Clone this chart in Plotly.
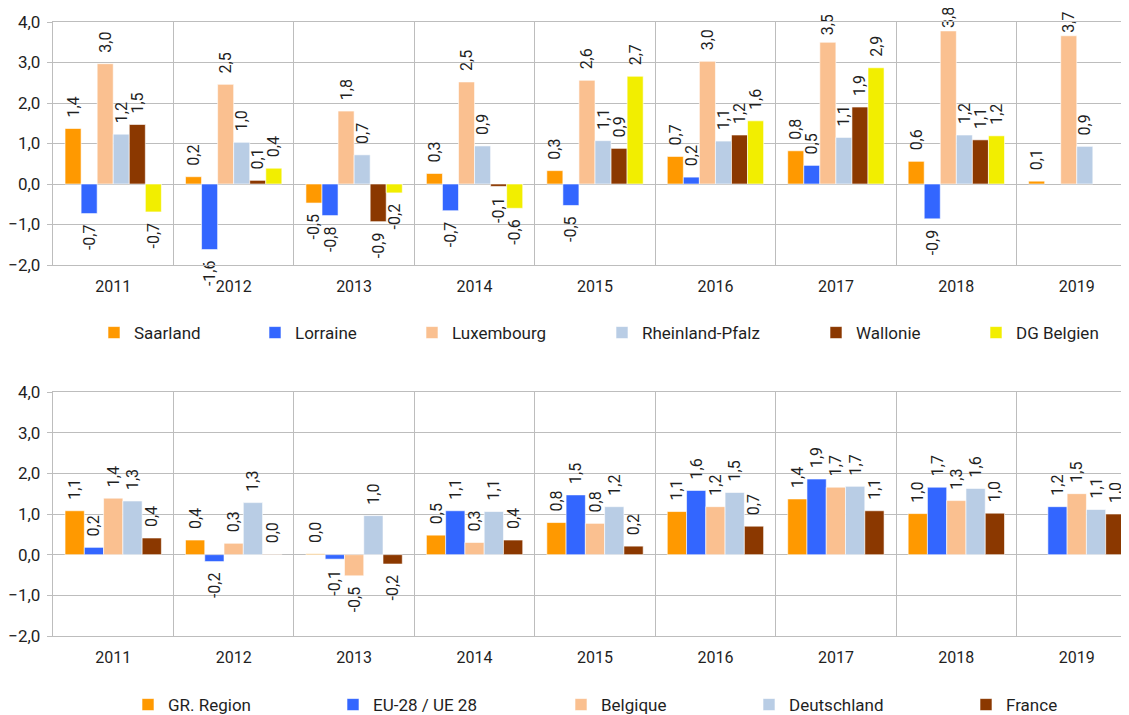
import plotly.graph_objects as go

# Jahre (Kategorien)
years = ["2011", "2012", "2013", "2014", "2015", "2016", "2017", "2018", "2019"]

# oberes Diagramm
top_names = ["Saarland", "Lorraine", "Luxembourg", "Rheinland-Pfalz", "Wallonie", "DG Belgien"]
saarland = [1.37, 0.18, -0.47, 0.26, 0.33, 0.68, 0.82, 0.56, 0.07]
lorraine = [-0.73, -1.62, -0.78, -0.66, -0.53, 0.17, 0.46, -0.86, None]
luxembourg = [2.97, 2.46, 1.80, 2.52, 2.56, 3.03, 3.50, 3.78, 3.66]
rheinland_pfalz = [1.23, 1.03, 0.72, 0.94, 1.07, 1.06, 1.15, 1.21, 0.93]
wallonie = [1.47, 0.09, -0.93, -0.06, 0.88, 1.21, 1.90, 1.09, None]
dg_belgien = [-0.69, 0.39, -0.22, -0.60, 2.66, 1.56, 2.87, 1.19, None]

# unteres Diagramm
bottom_names = ["GR. Region", "EU-28 / UE 28", "Belgique", "Deutschland", "France"]
gr_region = [1.08, 0.36, 0.02, 0.48, 0.79, 1.06, 1.37, 1.01, None]
eu28 = [0.18, -0.17, -0.11, 1.08, 1.47, 1.58, 1.86, 1.66, 1.18]
belgique = [1.39, 0.28, -0.52, 0.30, 0.77, 1.18, 1.66, 1.33, 1.50]
deutschland = [1.32, 1.28, 0.96, 1.06, 1.18, 1.53, 1.68, 1.63, 1.11]
france = [0.41, 0.01, -0.23, 0.36, 0.21, 0.70, 1.08, 1.02, 1.00]

top_values = [saarland, lorraine, luxembourg, rheinland_pfalz, wallonie, dg_belgien]
bottom_values = [gr_region, eu28, belgique, deutschland, france]

COLORS = ["#FF9900", "#3366FF", "#FAC090", "#B9CDE5", "#8B3800", "#F2EE00"]
GRID = "#BDBDBD"
TEXT = "#1f1f1f"
FONT = "Roboto"

W, H = 1129, 715
OFF = 8  # Seitenrand des Browsers (body margin)
ML = 53 - OFF
X_RANGE = [-0.5, 8.5]
NBSP = "\u00a0"
# linke Kante des Legendentexts (px, Bildkoordinaten)
top_legend_x = [130, 291, 448, 638, 852, 1012]
bottom_legend_x = [164, 369, 597, 785, 1002]
# Plotbereiche (px von oben, Bildkoordinaten): 4,0 und -2,0
top_area = (22, 265)
bottom_area = (392, 636)


def label(v):
    """Beschriftung mit Abstand zum Balkenende (Excel-ähnlich)."""
    if v is None:
        return ""
    s = f"{v:.1f}".replace(".", ",")
    pad = 2 if abs(v) < 3.3 else (1 if abs(v) < 3.6 else 0)
    return NBSP * pad + s if v >= 0 else s + NBSP * pad


def domain(area):
    top, bottom = area
    return [1 - (bottom - OFF) / H, 1 - (top - OFF) / H]


fig = go.Figure()
legends = {}


def add_group(names, values, xa, ya, legend_x, legend_y, start):
    for i, (name, vals) in enumerate(zip(names, values)):
        idx = start + i
        lid = "legend" if idx == 0 else f"legend{idx + 1}"
        fig.add_trace(
            go.Bar(
                x=years,
                y=vals,
                name=name,
                xaxis=xa,
                yaxis=ya,
                legend=lid,
                showlegend=True,
                marker=dict(color=COLORS[i], line=dict(color="white", width=0.6)),
                text=[label(v) for v in vals],
                texttemplate="%{text}",
                textposition="outside",
                textangle=-90,
                constraintext="none",
                cliponaxis=False,
                textfont=dict(family=FONT, size=16, color=TEXT),
                hovertemplate=f"{name} %{{x}}: %{{y:.1f}}<extra></extra>",
            )
        )
        legends[lid] = dict(
            x=(legend_x[i] - OFF - 36 - ML) / (W - ML),
            y=1 - (legend_y - OFF) / H,
            xanchor="left",
            yanchor="middle",
            bgcolor="rgba(0,0,0,0)",
            font=dict(family=FONT, size=17, color=TEXT),
        )


add_group(top_names, top_values, "x", "y", top_legend_x, 333, 0)
add_group(bottom_names, bottom_values, "x2", "y2", bottom_legend_x, 705, len(top_names))

xaxis_style = dict(
    type="category",
    range=X_RANGE,
    showgrid=True,
    gridcolor=GRID,
    gridwidth=1.3,
    tickson="boundaries",
    ticks="",
    showline=True,
    mirror=True,
    linecolor=GRID,
    linewidth=1.3,
    tickfont=dict(family=FONT, size=16, color=TEXT),
    ticklabelstandoff=7,
    automargin=False,
    fixedrange=True,
)
yaxis_style = dict(
    range=[-2, 4],
    dtick=1,
    tickformat=".1f",
    showgrid=True,
    gridcolor=GRID,
    gridwidth=1.3,
    zeroline=True,
    zerolinecolor=GRID,
    zerolinewidth=1.3,
    showline=True,
    linecolor=GRID,
    linewidth=1.3,
    ticks="outside",
    ticklen=5,
    tickcolor=GRID,
    tickfont=dict(family=FONT, size=17, color=TEXT),
    ticklabelstandoff=3,
    automargin=False,
    fixedrange=True,
)


def zero_ticks(over, area):
    """kleine Striche an den Kategoriegrenzen unter der Nulllinie"""
    top, bottom = area
    zero_px = top + (bottom - top) * 4 / 6 - OFF
    return dict(
        overlaying=over,
        anchor="free",
        position=1 - zero_px / H,
        range=X_RANGE,
        tickvals=[k - 0.5 for k in range(len(years) + 1)],
        ticks="outside",
        ticklen=5,
        tickwidth=1.3,
        tickcolor=GRID,
        showticklabels=False,
        showgrid=False,
        showline=False,
        zeroline=False,
        automargin=False,
        fixedrange=True,
    )


fig.update_layout(
    width=W,
    height=H,
    margin=dict(l=ML, r=0, t=0, b=0, autoexpand=False),
    paper_bgcolor="white",
    plot_bgcolor="white",
    separators=",.",
    barmode="group",
    bargap=0.2,
    showlegend=True,
    font=dict(family=FONT, color=TEXT),
    xaxis=dict(xaxis_style, domain=[0, 1], anchor="y"),
    yaxis=dict(yaxis_style, domain=domain(top_area), anchor="x"),
    xaxis2=dict(xaxis_style, domain=[0, 1], anchor="y2"),
    yaxis2=dict(yaxis_style, domain=domain(bottom_area), anchor="x2"),
    xaxis3=zero_ticks("x", top_area),
    xaxis4=zero_ticks("x2", bottom_area),
    **legends,
)

fig.write_html("out.html")
